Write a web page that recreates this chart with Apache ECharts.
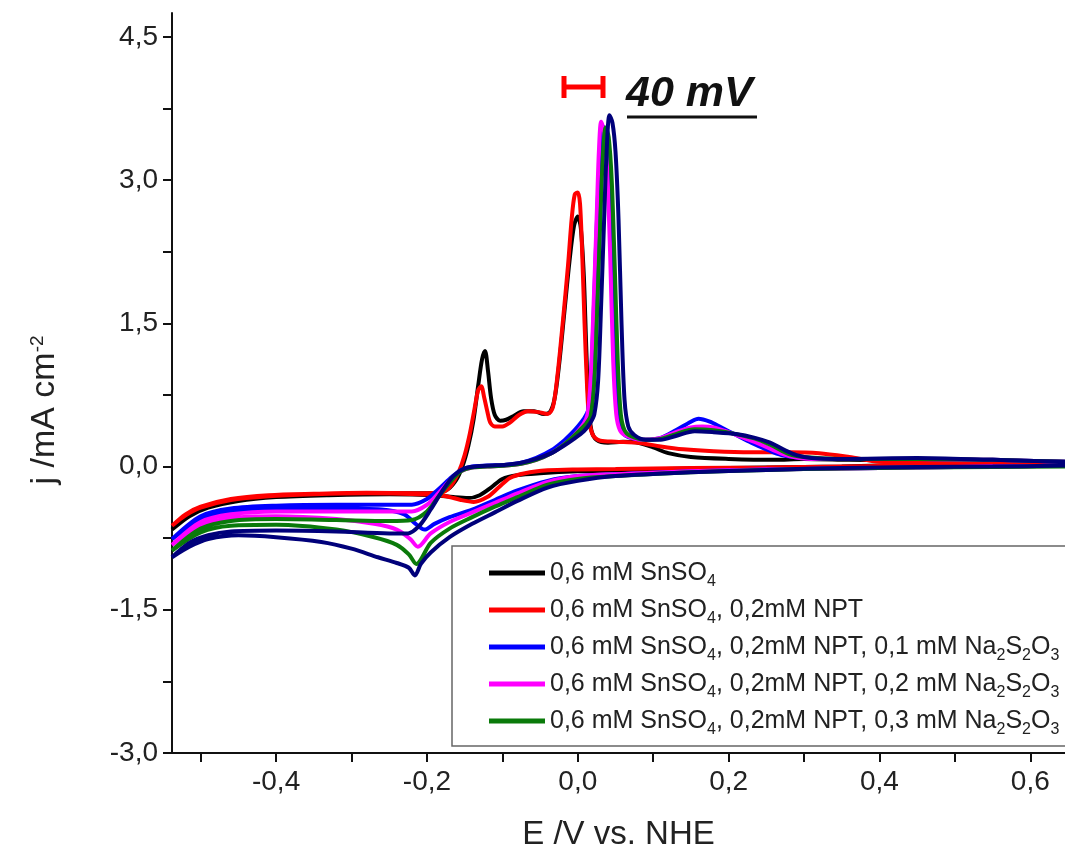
<!DOCTYPE html>
<html>
<head>
<meta charset="utf-8">
<script src="https://cdn.jsdelivr.net/npm/echarts@6/dist/echarts.min.js"></script>
<style>
html,body{margin:0;padding:0;background:#fff;}
#c{width:1065px;height:857px;}
</style>
</head>
<body>
<div id="c"></div>
<script>
// ---- data: cyclic voltammograms, [E (V vs NHE), j (mA cm-2)] ----
const legendNames = [
  '0,6 mM SnSO4',
  '0,6 mM SnSO4, 0,2mM NPT',
  '0,6 mM SnSO4, 0,2mM NPT, 0,1 mM Na2S2O3',
  '0,6 mM SnSO4, 0,2mM NPT, 0,2 mM Na2S2O3',
  '0,6 mM SnSO4, 0,2mM NPT, 0,3 mM Na2S2O3'
];
const colors = ['#000000', '#ff0000', '#0000ff', '#ff00ff', '#0a7a0a', '#00007a'];

const xTicks = [-0.5,-0.4,-0.3,-0.2,-0.1,0,0.1,0.2,0.3,0.4,0.5,0.6];
const xLabels = [-0.4,-0.2,0,0.2,0.4,0.6];
const yTicks = [-3,-2.25,-1.5,-0.75,0,0.75,1.5,2.25,3,3.75,4.5];
const yLabels = [-3,-1.5,0,1.5,3,4.5];

const cvBlack = [
[0.646,0.04],[0.55,0.03],[0.45,0.02],[0.35,0.0],[0.25,-0.01],[0.15,-0.02],[0.05,-0.04],[0.0,-0.05],[-0.05,-0.07],[-0.08,-0.09],[-0.1,-0.13],[-0.115,-0.22],[-0.13,-0.3],[-0.145,-0.33],[-0.165,-0.32],[-0.19,-0.3],[-0.25,-0.29],[-0.33,-0.3],[-0.4,-0.32],[-0.45,-0.36],[-0.49,-0.43],[-0.515,-0.52],[-0.538,-0.66],
[-0.515,-0.51],[-0.49,-0.42],[-0.45,-0.35],[-0.4,-0.31],[-0.33,-0.29],[-0.25,-0.28],[-0.2,-0.28],[-0.175,-0.25],[-0.162,-0.15],[-0.153,0.0],[-0.145,0.22],[-0.138,0.5],[-0.132,0.85],[-0.127,1.12],[-0.123,1.21],[-0.119,1.0],[-0.115,0.72],[-0.11,0.54],[-0.103,0.48],[-0.095,0.49],[-0.085,0.53],[-0.072,0.58],[-0.058,0.58],[-0.045,0.55],[-0.037,0.57],[-0.031,0.7],[-0.025,1.05],[-0.018,1.6],[-0.011,2.15],[-0.005,2.52],[0.0,2.62],[0.004,2.5],[0.008,2.0],[0.011,1.3],[0.014,0.7],[0.018,0.38],[0.025,0.28],[0.04,0.25],[0.06,0.26],[0.08,0.25],[0.1,0.2],[0.12,0.14],[0.15,0.1],[0.2,0.08],[0.26,0.07],[0.3,0.08],[0.36,0.07],[0.45,0.06],[0.55,0.05],[0.646,0.04]
];
const cvRed = [
[0.646,0.03],[0.55,0.02],[0.45,0.01],[0.35,0.0],[0.25,-0.01],[0.15,-0.015],[0.05,-0.025],[0.0,-0.03],[-0.04,-0.04],[-0.07,-0.07],[-0.09,-0.12],[-0.105,-0.22],[-0.12,-0.32],[-0.138,-0.37],[-0.155,-0.35],[-0.175,-0.31],[-0.21,-0.29],[-0.28,-0.28],[-0.35,-0.29],[-0.41,-0.31],[-0.46,-0.35],[-0.5,-0.43],[-0.52,-0.51],[-0.538,-0.62],
[-0.52,-0.5],[-0.5,-0.42],[-0.46,-0.34],[-0.41,-0.3],[-0.35,-0.285],[-0.28,-0.275],[-0.21,-0.28],[-0.18,-0.27],[-0.168,-0.2],[-0.158,-0.06],[-0.15,0.12],[-0.143,0.35],[-0.137,0.6],[-0.132,0.8],[-0.128,0.84],[-0.124,0.72],[-0.12,0.58],[-0.116,0.46],[-0.11,0.42],[-0.1,0.42],[-0.09,0.46],[-0.078,0.54],[-0.066,0.58],[-0.052,0.57],[-0.04,0.55],[-0.033,0.62],[-0.027,0.95],[-0.02,1.5],[-0.013,2.1],[-0.008,2.6],[-0.004,2.85],[0.0,2.87],[0.003,2.75],[0.006,2.2],[0.009,1.5],[0.012,0.9],[0.015,0.5],[0.02,0.33],[0.03,0.27],[0.05,0.26],[0.08,0.25],[0.11,0.21],[0.14,0.18],[0.18,0.16],[0.23,0.15],[0.28,0.15],[0.32,0.14],[0.36,0.1],[0.4,0.05],[0.45,0.04],[0.55,0.035],[0.646,0.035]
];
const cvBlue = [
[0.646,0.01],[0.55,0.0],[0.45,-0.01],[0.35,-0.02],[0.25,-0.03],[0.15,-0.05],[0.05,-0.08],[0.0,-0.1],[-0.04,-0.15],[-0.08,-0.25],[-0.11,-0.35],[-0.14,-0.45],[-0.17,-0.53],[-0.19,-0.6],[-0.203,-0.66],[-0.215,-0.6],[-0.23,-0.5],[-0.26,-0.45],[-0.32,-0.44],[-0.4,-0.45],[-0.46,-0.48],[-0.5,-0.56],[-0.538,-0.76],
[-0.5,-0.52],[-0.46,-0.44],[-0.4,-0.41],[-0.32,-0.4],[-0.25,-0.4],[-0.22,-0.4],[-0.2,-0.34],[-0.185,-0.24],[-0.17,-0.13],[-0.155,-0.04],[-0.14,0.0],[-0.12,0.01],[-0.095,0.02],[-0.075,0.04],[-0.055,0.09],[-0.035,0.17],[-0.02,0.26],[-0.008,0.35],[0.0,0.42],[0.008,0.5],[0.014,0.6],[0.018,1.0],[0.022,1.8],[0.026,2.7],[0.03,3.3],[0.034,3.56],[0.038,3.45],[0.042,3.0],[0.046,2.0],[0.05,1.0],[0.054,0.5],[0.06,0.35],[0.07,0.3],[0.09,0.28],[0.11,0.3],[0.13,0.38],[0.15,0.47],[0.16,0.5],[0.175,0.47],[0.19,0.41],[0.21,0.33],[0.23,0.25],[0.25,0.18],[0.27,0.12],[0.3,0.09],[0.35,0.08],[0.45,0.08],[0.55,0.07],[0.646,0.05]
];
const cvMagenta = [
[0.646,0.01],[0.55,0.0],[0.45,-0.01],[0.35,-0.02],[0.25,-0.03],[0.15,-0.05],[0.05,-0.08],[0.0,-0.1],[-0.04,-0.16],[-0.08,-0.28],[-0.11,-0.38],[-0.14,-0.48],[-0.17,-0.58],[-0.195,-0.7],[-0.212,-0.84],[-0.222,-0.76],[-0.24,-0.66],[-0.27,-0.6],[-0.32,-0.55],[-0.4,-0.52],[-0.46,-0.54],[-0.5,-0.62],[-0.538,-0.82],
[-0.5,-0.58],[-0.46,-0.5],[-0.4,-0.47],[-0.32,-0.47],[-0.25,-0.47],[-0.22,-0.47],[-0.2,-0.4],[-0.185,-0.28],[-0.17,-0.15],[-0.155,-0.05],[-0.14,-0.01],[-0.12,0.0],[-0.095,0.01],[-0.075,0.03],[-0.055,0.07],[-0.035,0.14],[-0.02,0.22],[-0.008,0.3],[0.0,0.37],[0.008,0.45],[0.013,0.55],[0.017,0.9],[0.021,1.7],[0.025,2.6],[0.028,3.3],[0.031,3.61],[0.035,3.5],[0.039,3.1],[0.043,2.2],[0.047,1.1],[0.051,0.55],[0.056,0.38],[0.065,0.32],[0.085,0.28],[0.11,0.3],[0.13,0.36],[0.15,0.41],[0.165,0.42],[0.18,0.41],[0.2,0.36],[0.22,0.3],[0.24,0.24],[0.26,0.17],[0.28,0.11],[0.31,0.08],[0.35,0.08],[0.45,0.08],[0.55,0.07],[0.646,0.05]
];
const cvGreen = [
[0.646,0.0],[0.55,-0.005],[0.45,-0.01],[0.35,-0.02],[0.25,-0.035],[0.15,-0.06],[0.05,-0.1],[0.0,-0.13],[-0.04,-0.19],[-0.08,-0.32],[-0.11,-0.42],[-0.14,-0.53],[-0.17,-0.65],[-0.195,-0.8],[-0.214,-1.02],[-0.224,-0.92],[-0.24,-0.82],[-0.27,-0.74],[-0.32,-0.66],[-0.4,-0.61],[-0.46,-0.62],[-0.5,-0.69],[-0.538,-0.88],
[-0.5,-0.65],[-0.46,-0.57],[-0.4,-0.55],[-0.32,-0.56],[-0.25,-0.57],[-0.22,-0.56],[-0.2,-0.47],[-0.185,-0.32],[-0.17,-0.17],[-0.155,-0.05],[-0.14,-0.01],[-0.12,0.0],[-0.095,0.01],[-0.075,0.03],[-0.055,0.07],[-0.035,0.14],[-0.02,0.22],[-0.008,0.3],[0.0,0.36],[0.01,0.44],[0.017,0.53],[0.022,0.9],[0.026,1.7],[0.03,2.6],[0.033,3.2],[0.037,3.55],[0.041,3.45],[0.045,3.0],[0.049,2.1],[0.053,1.1],[0.057,0.55],[0.062,0.38],[0.07,0.32],[0.09,0.28],[0.11,0.29],[0.13,0.34],[0.155,0.39],[0.18,0.38],[0.21,0.34],[0.24,0.28],[0.26,0.21],[0.28,0.13],[0.3,0.1],[0.35,0.08],[0.45,0.08],[0.55,0.07],[0.646,0.05]
];
const cvNavy = [
[0.646,0.01],[0.55,0.0],[0.45,-0.005],[0.35,-0.015],[0.25,-0.035],[0.15,-0.06],[0.05,-0.1],[0.0,-0.15],[-0.04,-0.22],[-0.08,-0.36],[-0.11,-0.48],[-0.14,-0.6],[-0.17,-0.74],[-0.195,-0.9],[-0.208,-1.02],[-0.216,-1.14],[-0.224,-1.06],[-0.24,-1.01],[-0.265,-0.95],[-0.3,-0.86],[-0.34,-0.79],[-0.4,-0.74],[-0.45,-0.72],[-0.49,-0.76],[-0.515,-0.84],[-0.538,-0.95],
[-0.515,-0.8],[-0.49,-0.72],[-0.46,-0.68],[-0.4,-0.67],[-0.32,-0.68],[-0.25,-0.7],[-0.225,-0.7],[-0.21,-0.62],[-0.195,-0.45],[-0.18,-0.26],[-0.165,-0.1],[-0.15,-0.02],[-0.135,0.0],[-0.115,0.01],[-0.095,0.02],[-0.075,0.04],[-0.055,0.08],[-0.035,0.14],[-0.02,0.21],[-0.005,0.29],[0.008,0.37],[0.016,0.45],[0.022,0.55],[0.027,0.9],[0.031,1.7],[0.035,2.6],[0.038,3.25],[0.042,3.68],[0.046,3.6],[0.05,3.3],[0.054,2.6],[0.058,1.5],[0.062,0.7],[0.067,0.42],[0.075,0.33],[0.09,0.28],[0.11,0.28],[0.13,0.32],[0.155,0.37],[0.18,0.36],[0.21,0.34],[0.235,0.3],[0.255,0.25],[0.275,0.17],[0.29,0.12],[0.31,0.09],[0.35,0.08],[0.45,0.09],[0.55,0.07],[0.646,0.05]
];

const curves = [cvBlack, cvRed, cvBlue, cvMagenta, cvGreen, cvNavy];
const seriesNames = legendNames.concat(['navy']);

const FONT = 'Liberation Sans, Arial, sans-serif';
const fmt = v => v.toFixed(1).replace('.', ',');

const chart = echarts.init(document.getElementById('c'), null, {renderer: 'canvas'});

const series = curves.map((d, i) => ({
  name: seriesNames[i],
  type: 'line',
  data: d,
  showSymbol: false,
  symbol: 'none',
  smooth: 0.3,
  lineStyle: {color: colors[i], width: 4},
  itemStyle: {color: colors[i]},
  z: 2 + i,
  animation: false
}));

chart.setOption({
  animation: false,
  backgroundColor: '#ffffff',
  grid: {left: 172, right: 0, top: 13, bottom: 104, containLabel: false, outerBoundsMode: 'none'},
  xAxis: {
    type: 'value', min: -0.538, max: 0.646,
    name: 'E /V vs. NHE', nameLocation: 'middle', nameGap: 65,
    nameTextStyle: {fontFamily: FONT, fontSize: 33, color: '#222'},
    axisLine: {show: true, onZero: false, lineStyle: {color: '#111', width: 2}},
    axisTick: {show: true, inside: false, length: 9, lineStyle: {color: '#111', width: 2}, customValues: xTicks},
    axisLabel: {margin: 15, fontFamily: FONT, fontSize: 28, color: '#222', customValues: xLabels, formatter: fmt},
    splitLine: {show: false}
  },
  yAxis: {
    type: 'value', min: -3, max: 4.75,
    name: 'j /mA cm{sup|-2}', nameLocation: 'middle', nameGap: 110, nameRotate: 90,
    nameTextStyle: {fontFamily: FONT, fontSize: 34, color: '#222', padding: [0, 54, 0, 0],
      rich: {sup: {fontFamily: FONT, fontSize: 19, color: '#222', verticalAlign: 'top', lineHeight: 19}}},
    axisLine: {show: true, onZero: false, lineStyle: {color: '#111', width: 2}},
    axisTick: {show: true, inside: false, length: 9, lineStyle: {color: '#111', width: 2}, customValues: yTicks},
    axisLabel: {margin: 14, fontFamily: FONT, fontSize: 28, color: '#222', customValues: yLabels, formatter: fmt},
    splitLine: {show: false}
  },
  legend: {
    data: legendNames,
    orient: 'vertical',
    left: 452, top: 546,
    padding: [10, 30, 8, 37],
    itemGap: 3,
    itemWidth: 56, itemHeight: 5,
    icon: 'rect',
    backgroundColor: '#ffffff',
    borderColor: '#666666', borderWidth: 1.5, borderRadius: 0,
    z: 20,
    selectedMode: false,
    formatter: function (name) {
      return name.replace('SnSO4', 'SnSO{s|4}').replace('Na2S2O3', 'Na{s|2}S{s|2}O{s|3}');
    },
    textStyle: {
      fontFamily: FONT, fontSize: 25, color: '#222', lineHeight: 34,
      rich: {s: {fontFamily: FONT, fontSize: 16, color: '#222', lineHeight: 13, verticalAlign: 'bottom'}}
    }
  },
  graphic: [
    {type: 'line', shape: {x1: 564, y1: 87, x2: 603, y2: 87}, style: {stroke: '#ff0000', lineWidth: 5}, z: 30},
    {type: 'line', shape: {x1: 564, y1: 76, x2: 564, y2: 98}, style: {stroke: '#ff0000', lineWidth: 5}, z: 30},
    {type: 'line', shape: {x1: 603, y1: 76, x2: 603, y2: 98}, style: {stroke: '#ff0000', lineWidth: 5}, z: 30},
    {type: 'text', left: 626, top: 73, z: 30,
      style: {text: '40 mV', font: 'italic bold 43px Liberation Sans, Arial, sans-serif', fill: '#111'}},
    {type: 'line', shape: {x1: 627, y1: 117, x2: 757, y2: 117}, style: {stroke: '#111', lineWidth: 3}, z: 30}
  ],
  series: series
});
</script>
</body>
</html>
